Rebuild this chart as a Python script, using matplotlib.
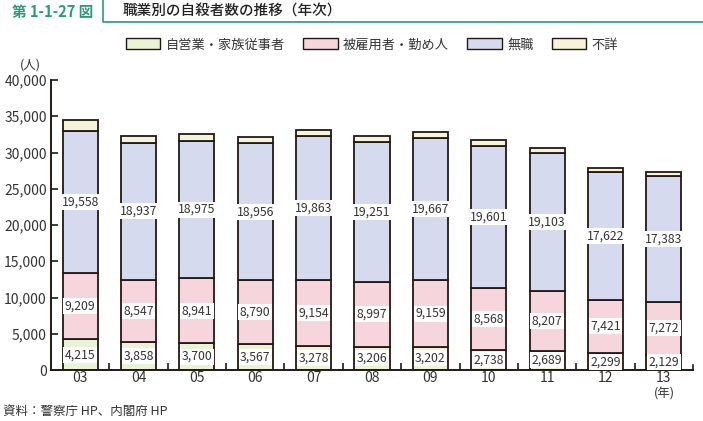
import numpy as np
import matplotlib
matplotlib.use("Agg")
from matplotlib import pyplot as plt
from matplotlib.lines import Line2D
from matplotlib.patches import Patch

plt.rcParams["font.family"] = ["Noto Sans CJK JP", "DejaVu Sans"]

years = ["03", "04", "05", "06", "07", "08", "09", "10", "11", "12", "13"]
self_employed = [4215, 3858, 3700, 3567, 3278, 3206, 3202, 2738, 2689, 2299, 2129]
employed = [9209, 8547, 8941, 8790, 9154, 8997, 9159, 8568, 8207, 7421, 7272]
unemployed = [19558, 18937, 18975, 18956, 19863, 19251, 19667, 19601, 19103, 17622, 17383]
unknown = [1445, 983, 936, 842, 798, 795, 817, 783, 652, 516, 499]

series = [
    ("自営業・家族従事者", self_employed, "#e9f3d6", True),
    ("被雇用者・勤め人", employed, "#f7d5dc", True),
    ("無職", unemployed, "#d5daee", True),
    ("不詳", unknown, "#f5f3d8", False),
]

edge = "#231815"
text_c = "#333333"
teal = "#2a9a78"

fig = plt.figure(figsize=(7.03, 4.21), dpi=100)
ax = fig.add_axes([51 / 703, 51 / 421, 642 / 703, 290 / 421])

x = np.arange(len(years))
bottom = np.zeros(len(years))
for name, vals, color, show in series:
    vals = np.array(vals)
    ax.bar(x, vals, width=0.6, bottom=bottom, color=color, edgecolor=edge, lw=1.3, zorder=2)
    if show:
        for xi, b, v in zip(x, bottom, vals):
            ax.text(xi, b + v / 2, f"{v:,}", ha="center", va="center", fontsize=8.8,
                    color=text_c, zorder=3,
                    bbox=dict(boxstyle="square,pad=0.12", fc="white", ec="none"))
    bottom += vals

ax.set_xlim(-0.5, len(years) - 0.5)
ax.set_ylim(0, 40000)
ax.set_yticks(np.arange(0, 40001, 5000))
ax.set_yticklabels([f"{v:,}" for v in range(0, 40001, 5000)], fontsize=10, color=text_c)
ax.set_xticks(x)
ax.set_xticklabels(years, fontsize=10, color=text_c)
ax.tick_params(axis="x", length=0, pad=1)
ax.tick_params(axis="y", direction="in", length=5, width=1.2, color=edge, pad=3)
# ticks between the years
ax.set_xticks(np.arange(0.5, len(years) - 0.5, 1), minor=True)
ax.tick_params(axis="x", which="minor", direction="in", length=5, width=1.2, color=edge)
for s in ["top", "right"]:
    ax.spines[s].set_visible(False)
for s in ["left", "bottom"]:
    ax.spines[s].set_color(edge)
    ax.spines[s].set_linewidth(1.4)
ax.axvline(len(years) - 0.5, ymin=0, ymax=5 / 290, color=edge, lw=1.2, clip_on=False)

# legend
handles = [Patch(fc=c, ec=edge, lw=1.0) for _, _, c, _ in series]
fig.legend(handles, [n for n, _, _, _ in series], loc="center", bbox_to_anchor=(372 / 703, 1 - 45 / 421),
           ncol=4, frameon=False, fontsize=9.5, handlelength=2.6, handleheight=0.9,
           handletextpad=0.4, columnspacing=1.4, labelcolor=text_c)

# header
fig.text(12 / 703, 1 - 12 / 421, "第 1-1-27 図", fontsize=10.5, color=teal, weight="bold",
         va="center", ha="left")
fig.text(123 / 703, 1 - 12 / 421, "職業別の自殺者数の推移（年次）", fontsize=10.5, color="#222222",
         weight="medium", va="center", ha="left")
fig.add_artist(Line2D([103 / 703, 103 / 703, 1.0], [1.0, 1 - 22 / 421, 1 - 22 / 421],
                      color=teal, lw=1.2, transform=fig.transFigure))

fig.text(30 / 703, 1 - 65 / 421, "(人)", fontsize=9, color=text_c, ha="center", va="center")
fig.text(664 / 703, 1 - 394 / 421, "(年)", fontsize=9, color=text_c, ha="center", va="center")
fig.text(3 / 703, 1 - 411 / 421, "資料：警察庁 HP、内閣府 HP", fontsize=9, color=text_c,
         ha="left", va="center")

fig.savefig("out.png", dpi=100)
